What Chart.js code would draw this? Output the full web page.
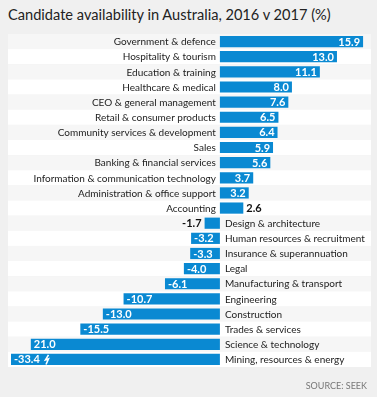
<!DOCTYPE html>
<html>
<head>
<meta charset="utf-8">
<script src="https://cdn.jsdelivr.net/npm/chart.js@4/dist/chart.umd.min.js"></script>
<style>
  html, body { margin: 0; padding: 0; background: #f0f0f0; width: 377px; height: 397px; overflow: hidden; }
  #title { position: absolute; left: 8px; top: 6px; font: 14.6px Lato, sans-serif; color: #222; white-space: nowrap; }
  #source { position: absolute; right: 10px; top: 380px; font: 9px Lato, sans-serif; color: #777; }
  #wrap { position: absolute; left: 0; top: 0; width: 377px; height: 397px; }
</style>
</head>
<body>
<div id="title">Candidate availability in Australia, 2016 v 2017 (%)</div>
<div id="wrap"><canvas id="c" width="377" height="397"></canvas></div>
<div id="source">SOURCE: SEEK</div>
<script>
const categories = [
  "Government & defence",
  "Hospitality & tourism",
  "Education & training",
  "Healthcare & medical",
  "CEO & general management",
  "Retail & consumer products",
  "Community services & development",
  "Sales",
  "Banking & financial services",
  "Information & communication technology",
  "Administration & office support",
  "Accounting",
  "Design & architecture",
  "Human resources & recruitment",
  "Insurance & superannuation",
  "Legal",
  "Manufacturing & transport",
  "Engineering",
  "Construction",
  "Trades & services",
  "Science & technology",
  "Mining, resources & energy"
];
const values = [15.9, 13.0, 11.1, 8.0, 7.6, 6.5, 6.4, 5.9, 5.6, 3.7, 3.2, 2.6,
  -1.7, -3.2, -3.3, -4.0, -6.1, -10.7, -13.0, -15.5, -21.0, -33.4];
const valueLabels = ["15.9", "13.0", "11.1", "8.0", "7.6", "6.5", "6.4", "5.9", "5.6", "3.7", "3.2", "2.6",
  "-1.7", "-3.2", "-3.3", "-4.0", "-6.1", "-10.7", "-13.0", "-15.5", "21.0", "-33.4"];
const axisMin = -23.2;
const axisMax = 16.78;
const brokenBar = "Mining, resources & energy";
const breakValue = -19.2;

const BLUE = "#0a89d2";

const stripes = {
  id: "stripes",
  beforeDatasetsDraw(chart) {
    const { ctx, chartArea, scales } = chart;
    const y = scales.y;
    const n = categories.length;
    const rowH = (chartArea.bottom - chartArea.top) / n;
    ctx.save();
    for (let i = 0; i < n; i++) {
      const cy = y.getPixelForValue(i);
      ctx.fillStyle = i % 2 === 0 ? "#f6f6f6" : "#ffffff";
      ctx.fillRect(chartArea.left - 3, cy - rowH / 2, chartArea.right - chartArea.left + 3, rowH);
    }
    ctx.restore();
  }
};

const labels = {
  id: "labels",
  afterDatasetsDraw(chart) {
    const { ctx, scales } = chart;
    const x = scales.x, y = scales.y;
    const zero = x.getPixelForValue(0);
    const meta = chart.getDatasetMeta(0);
    ctx.save();
    ctx.textBaseline = "middle";
    categories.forEach((cat, i) => {
      const v = values[i];
      const cy = y.getPixelForValue(i) + 0.5;
      ctx.font = "10px Lato, sans-serif";
      ctx.fillStyle = "#222";
      if (v >= 0) { ctx.textAlign = "right"; ctx.fillText(cat, zero - 4, cy); }
      else { ctx.textAlign = "left"; ctx.fillText(cat, zero + 5, cy); }
      const bar = meta.data[i];
      const end = Math.max(chart.chartArea.left, Math.min(chart.chartArea.right, bar.x));
      ctx.font = "bold 11px Lato, sans-serif";
      const txt = valueLabels[i];
      if (Math.abs(v) < 3) {
        ctx.fillStyle = "#111";
        if (v >= 0) { ctx.textAlign = "left"; ctx.fillText(txt, end + 3, cy); }
        else { ctx.textAlign = "right"; ctx.fillText(txt, end - 3, cy); }
      } else {
        ctx.fillStyle = "#ffffff";
        if (v >= 0) { ctx.textAlign = "right"; ctx.fillText(txt, end - 3, cy); }
        else { ctx.textAlign = "left"; ctx.fillText(txt, end + 3, cy); }
      }
      if (cat === brokenBar) {
        const bx = x.getPixelForValue(breakValue);
        const h = bar.height;
        const top = bar.y - h / 2, bot = bar.y + h / 2;
        ctx.strokeStyle = "#ffffff";
        ctx.lineWidth = 1.6;
        ctx.beginPath();
        ctx.moveTo(bx + 1.5, top + 1);
        ctx.lineTo(bx - 1.5, bar.y + 0.5);
        ctx.lineTo(bx + 1.5, bar.y - 0.5);
        ctx.lineTo(bx - 1, bot - 0.5);
        ctx.stroke();
      }
    });
    ctx.restore();
  }
};

new Chart(document.getElementById("c"), {
  type: "bar",
  data: {
    labels: categories,
    datasets: [{
      data: values,
      backgroundColor: BLUE,
      borderWidth: 0,
      barPercentage: 0.74,
      categoryPercentage: 1.0
    }]
  },
  options: {
    indexAxis: "y",
    responsive: false,
    devicePixelRatio: 1,
    animation: false,
    layout: { padding: { left: 11, right: 6, top: 34, bottom: 30 } },
    plugins: { legend: { display: false }, tooltip: { enabled: false }, title: { display: false } },
    scales: {
      x: { display: false, min: axisMin, max: axisMax },
      y: { display: false, offset: true }
    }
  },
  plugins: [stripes, labels]
});
</script>
</body>
</html>
